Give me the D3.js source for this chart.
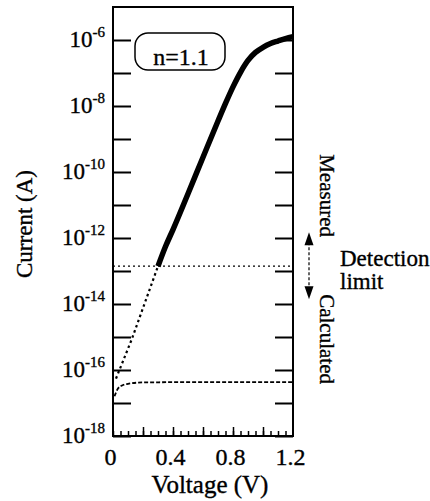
<!DOCTYPE html>
<html>
<head>
<meta charset="utf-8">
<script src="https://cdn.jsdelivr.net/npm/d3@7"></script>
<style>
  html, body { margin: 0; padding: 0; background: #fff; }
  svg { display: block; font-family: "Liberation Serif", "Times New Roman", serif; }
  svg text { stroke: #000; stroke-width: 0.35px; }
</style>
</head>
<body>
<svg id="chart" width="430" height="501"></svg>
<script>
// ---- data ----
const measuredV = [0.30, 0.35, 0.40, 0.50, 0.60, 0.70, 0.75, 0.80, 0.85, 0.90, 0.95, 1.00, 1.05, 1.10, 1.15, 1.20];
const measuredI = [1.4e-13, 5.5e-13, 1.8e-12, 2.2e-11, 2.8e-10, 3.5e-9, 1.2e-8, 3.8e-8, 1.05e-7, 2.4e-7, 4.2e-7, 6.0e-7, 7.8e-7, 9.3e-7, 1.1e-6, 1.26e-6];
const calcV = [0.02, 0.125, 0.30];
const calcI = [5.5e-17, 8.5e-16, 1.4e-13];
const floorV = [0.01, 0.03, 0.06, 0.10, 0.20, 0.60, 1.20];
const floorI = [1.6e-17, 2.6e-17, 3.4e-17, 3.8e-17, 4.2e-17, 4.3e-17, 4.3e-17];
const detectionLimit = 1.4e-13;
const xTickLabels = [0, 0.4, 0.8, 1.2];
const yLabelExps = [-6, -8, -10, -12, -14, -16, -18];
const yTickExps = [-18, -17, -16, -15, -14, -13, -12, -11, -10, -9, -8, -7, -6];
const xMinor = d3.range(0, 24).map(i => i * 0.05);
const xMajor = [0.2, 0.4, 0.6, 0.8, 1.0];
const ideality = "n=1.1";

// ---- layout ----
const L = 113, R = 293, T = 7, B = 436;
const svg = d3.select("#chart");
const x = d3.scaleLinear().domain([0, 1.2]).range([L, R]);
const y = d3.scaleLog().domain([1e-18, 1e-5]).range([B, T]);
const toPts = (vs, is) => vs.map((v, i) => [v, is[i]]);

// axes
const yTickVals = yTickExps.map(e => Math.pow(10, e));
svg.append("g").attr("transform", `translate(${L},0)`)
  .call(d3.axisLeft(y).tickValues(yTickVals).tickSize(-18).tickFormat(() => ""))
  .call(g => g.select(".domain").remove())
  .selectAll("line").attr("stroke", "#000").attr("stroke-width", 2);
svg.append("g").attr("transform", `translate(${R},0)`)
  .call(d3.axisRight(y).tickValues(yTickVals).tickSize(-18).tickFormat(() => ""))
  .call(g => g.select(".domain").remove())
  .selectAll("line").attr("stroke", "#000").attr("stroke-width", 2);
svg.append("g").attr("transform", `translate(0,${B})`)
  .call(d3.axisBottom(x).tickValues(xMinor).tickSize(-5).tickFormat(() => ""))
  .call(g => g.select(".domain").remove())
  .selectAll("line").attr("stroke", "#000").attr("stroke-width", 1.5);
svg.append("g").attr("transform", `translate(0,${B})`)
  .call(d3.axisBottom(x).tickValues(xMajor).tickSize(-9).tickFormat(() => ""))
  .call(g => g.select(".domain").remove())
  .selectAll("line").attr("stroke", "#000").attr("stroke-width", 1.5);

// x tick labels
svg.append("g").attr("transform", `translate(0,${B})`)
  .call(d3.axisBottom(x).tickValues(xTickLabels).tickSize(0).tickPadding(0)
    .tickFormat(d => d === 0 ? "0" : d3.format(".1f")(d)))
  .call(g => g.select(".domain").remove())
  .selectAll("text")
  .attr("dy", null).attr("y", 29).attr("dx", -3)
  .attr("font-size", 24).attr("fill", "#000")
  .attr("font-family", "Liberation Serif, Times New Roman, serif");

// y tick labels with superscripts
const yl = svg.append("g");
yLabelExps.forEach(e => {
  const t = yl.append("text")
    .attr("x", 105).attr("y", y(Math.pow(10, e)) + 7)
    .attr("text-anchor", "end").attr("fill", "#000");
  t.append("tspan").attr("font-size", 23).text("10");
  t.append("tspan").attr("font-size", 15).attr("dy", -10).text(String(e));
});

// frame
svg.append("rect").attr("x", L).attr("y", T).attr("width", R - L).attr("height", B - T)
  .attr("fill", "none").attr("stroke", "#000").attr("stroke-width", 2);

// detection limit line
svg.append("line")
  .attr("x1", x(0)).attr("x2", x(1.2))
  .attr("y1", y(detectionLimit)).attr("y2", y(detectionLimit))
  .attr("stroke", "#000").attr("stroke-width", 1.3).attr("stroke-dasharray", "2,3");

const line = d3.line().x(d => x(d[0])).y(d => y(d[1]));

// floor (calculated) dashed curve
svg.append("path").datum(toPts(floorV, floorI))
  .attr("d", line.curve(d3.curveMonotoneX))
  .attr("fill", "none").attr("stroke", "#000").attr("stroke-width", 1.8)
  .attr("stroke-dasharray", "4,2");

// calculated steep dotted line
svg.append("path").datum(toPts(calcV, calcI))
  .attr("d", line.curve(d3.curveLinear))
  .attr("fill", "none").attr("stroke", "#000").attr("stroke-width", 2.2)
  .attr("stroke-dasharray", "2.5,3");

// measured thick solid
svg.append("path").datum(toPts(measuredV, measuredI))
  .attr("d", line.curve(d3.curveMonotoneX))
  .attr("fill", "none").attr("stroke", "#000").attr("stroke-width", 5.5)
  .attr("stroke-linecap", "butt");

// n=1.1 box
svg.append("rect").attr("x", 135).attr("y", 33).attr("width", 90).attr("height", 37)
  .attr("rx", 13).attr("fill", "#fff").attr("stroke", "#000").attr("stroke-width", 1.5);
svg.append("text").attr("x", 181).attr("y", 65).attr("text-anchor", "middle")
  .attr("font-size", 24).attr("fill", "#000").text(ideality);

// axis titles
svg.append("text").attr("x", 210).attr("y", 493).attr("text-anchor", "middle")
  .attr("font-size", 25).attr("fill", "#000").text("Voltage (V)");
svg.append("text").attr("transform", "translate(32,224) rotate(-90)")
  .attr("text-anchor", "middle").attr("font-size", 23).attr("fill", "#000").text("Current (A)");

// right-side annotation
const yd = y(detectionLimit);
const ax = 309;
svg.append("line").attr("x1", ax).attr("x2", ax).attr("y1", yd - 24).attr("y2", yd + 24)
  .attr("stroke", "#000").attr("stroke-width", 1.2).attr("stroke-dasharray", "3,2");
svg.append("path")
  .attr("d", `M${ax},${yd - 34} L${ax - 4.5},${yd - 21} L${ax + 4.5},${yd - 21} Z`)
  .attr("fill", "#000");
svg.append("path")
  .attr("d", `M${ax},${yd + 33} L${ax - 4.5},${yd + 20} L${ax + 4.5},${yd + 20} Z`)
  .attr("fill", "#000");
svg.append("text").attr("transform", `translate(320,${yd - 112}) rotate(90)`)
  .attr("font-size", 21).attr("fill", "#000").text("Measured");
svg.append("text").attr("transform", `translate(320,${yd + 28}) rotate(90)`)
  .attr("font-size", 21).attr("fill", "#000").text("Calculated");
svg.append("text").attr("x", 340).attr("y", yd).attr("font-size", 23).attr("fill", "#000").text("Detection");
svg.append("text").attr("x", 340).attr("y", yd + 23).attr("font-size", 23).attr("fill", "#000").text("limit");
</script>
</body>
</html>
